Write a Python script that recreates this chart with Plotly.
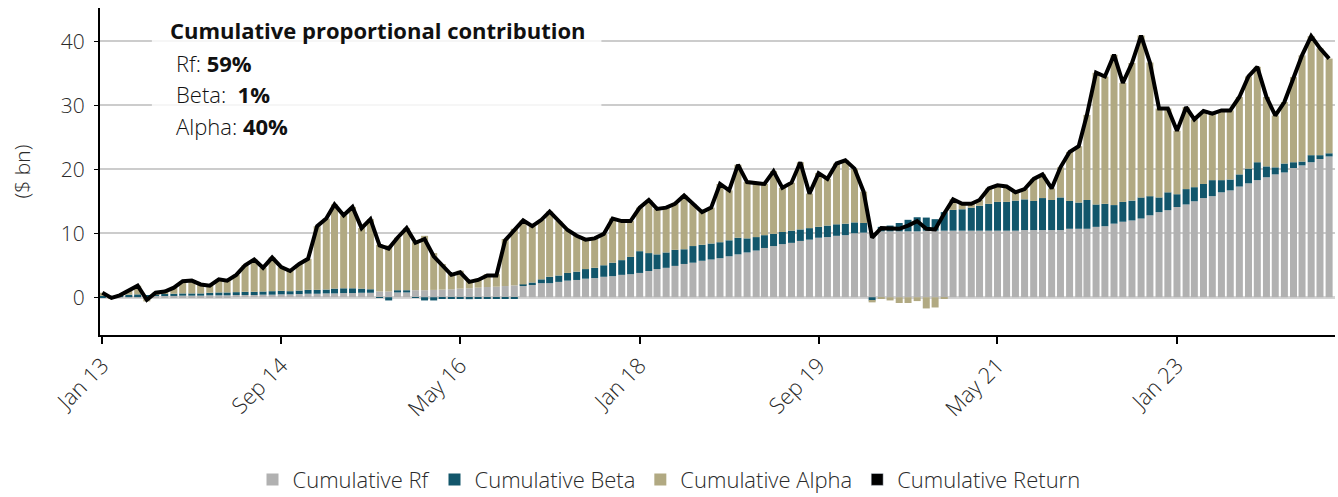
import pandas as pd
import plotly.graph_objects as go

months = pd.date_range("2013-01-01", periods=138, freq="MS")

cum_rf = [
    0.0, 0.05, 0.1, 0.1, 0.15, 0.15, 0.2, 0.2, 0.2, 0.25, 0.25, 0.25, 0.3, 0.3, 0.3, 0.35, 0.35, 0.35, 0.4, 0.4,
    0.45, 0.45, 0.5, 0.55, 0.55, 0.6, 0.6, 0.65, 0.65, 0.7, 0.7,
    0.9, 0.9, 0.75, 0.75, 1.1, 1.1, 1.15, 1.2, 1.25, 1.35, 1.4, 1.5, 1.6, 1.65, 1.75, 1.85,
    1.8, 2.0, 2.2, 2.2, 2.4, 2.6, 2.7, 2.9, 3.0, 3.2, 3.3, 3.5, 3.6, 3.8, 4.1, 4.4, 4.6, 4.9, 5.2, 5.4, 5.7, 5.9, 6.1,
    6.4, 6.7, 7.0, 7.3, 7.7, 8.0, 8.3, 8.5, 8.8, 9.0, 9.3, 9.4, 9.6, 9.7, 10.0, 10.1,
    10.1, 10.3, 10.3, 10.3, 10.3, 10.3, 10.4, 10.4, 10.4, 10.4, 10.4, 10.4, 10.4, 10.4, 10.4, 10.4, 10.4, 10.5,
    10.5, 10.5, 10.5, 10.5, 10.7, 10.7, 10.7, 11.0, 11.1, 11.5,
    11.8, 12.0, 12.3, 12.8, 13.3, 13.6, 14.1, 14.5, 15.0, 15.5, 15.8, 16.4, 16.7, 17.3, 17.8, 18.3, 18.75, 19.2,
    19.5, 20.2, 20.6, 21.1, 21.6, 22.0,
]

cum_beta = [
    0.2, 0.1, 0.2, 0.3, 0.3, 0.1, 0.3, 0.3, 0.35, 0.35, 0.35, 0.35, 0.4, 0.45, 0.45, 0.45, 0.5, 0.5, 0.5, 0.55,
    0.55, 0.5, 0.55, 0.6, 0.6, 0.6, 0.75, 0.75, 0.75, 0.65, 0.55,
    -0.1, -0.5, 0.35, 0.35, -0.1, -0.5, -0.5, -0.2, -0.2, -0.25, -0.3, -0.2, -0.2, -0.2, -0.2, -0.2,
    0.2, 0.3, 0.6, 1.0, 1.0, 1.2, 1.3, 1.5, 1.6, 1.8, 2.1, 2.3, 2.7, 3.4, 2.8, 2.3, 2.4, 2.5, 2.3, 2.6, 2.5, 2.5, 2.5,
    2.5, 2.6, 2.2, 2.1, 2.0, 1.9, 1.9, 1.9, 1.8, 1.8, 1.7, 1.8, 1.8, 1.8, 1.7, 1.5,
    -0.5, 0.7, 0.9, 1.3, 1.8, 2.2, 2.05, 1.8, 2.9, 3.25, 3.35, 3.6, 3.9, 4.2, 4.5, 4.5, 4.7, 4.8,
    4.55, 5.0, 4.7, 5.1, 4.35, 4.1, 4.5, 3.5, 3.5, 2.9,
    3.1, 3.1, 3.3, 3.0, 2.3, 2.8, 2.0, 2.4, 2.2, 2.2, 2.5, 1.9, 1.7, 1.9, 2.3, 2.8, 1.7, 1.1,
    1.4, 0.9, 0.6, 1.1, 0.6, 0.5,
]

cum_alpha = [
    0.5, -0.25, 0.0, 0.6, 1.35, -0.65, 0.2, 0.4, 0.95, 1.9, 2.0, 1.4, 1.1, 2.05, 1.85, 2.7, 4.15, 5.05, 3.7, 5.25,
    3.7, 3.15, 4.15, 4.85, 9.95, 11.1, 13.15, 11.4, 12.7, 9.45, 10.95,
    7.3, 7.2, 8.2, 9.7, 7.5, 8.5, 5.75, 4.0, 2.45, 2.8, 1.3, 1.4, 2.0, 1.95, 7.35, 8.85,
    10.0, 8.8, 9.3, 10.2, 8.5, 6.7, 5.6, 4.6, 4.6, 4.9, 6.9, 6.1, 5.6, 6.8, 8.3, 7.1, 7.0, 7.2, 8.4, 6.6, 5.1, 5.6, 9.1,
    7.8, 11.4, 8.8, 8.5, 8.0, 9.8, 6.9, 7.5, 10.5, 5.4, 8.4, 7.3, 9.5, 9.9, 8.4, 4.9,
    -0.3, -0.2, -0.5, -0.9, -0.9, -0.6, -1.75, -1.6, -0.2, 1.65, 0.85, 0.6, 0.9, 2.4, 2.6, 2.4, 1.3, 1.6,
    3.45, 3.7, 1.8, 4.7, 7.65, 8.8, 13.3, 20.6, 19.9, 23.5,
    18.6, 21.5, 25.3, 20.9, 13.9, 13.1, 9.9, 12.8, 10.6, 11.4, 10.4, 10.9, 10.8, 12.1, 14.4, 14.9, 10.85, 8.1,
    9.6, 13.3, 16.6, 18.6, 16.7, 14.8,
]

cum_return = [
    0.7, -0.1, 0.3, 1.0, 1.8, -0.4, 0.7, 0.9, 1.5, 2.5, 2.6, 2.0, 1.8, 2.8, 2.6, 3.5, 5.0, 5.9, 4.6, 6.2,
    4.7, 4.1, 5.2, 6.0, 11.1, 12.3, 14.5, 12.8, 14.1, 10.8, 12.2,
    8.1, 7.6, 9.3, 10.8, 8.5, 9.1, 6.4, 5.0, 3.5, 3.9, 2.4, 2.7, 3.4, 3.4, 8.9, 10.5,
    12.0, 11.1, 12.1, 13.4, 11.9, 10.5, 9.6, 9.0, 9.2, 9.9, 12.3, 11.9, 11.9, 14.0, 15.2, 13.8, 14.0, 14.6, 15.9,
    14.6, 13.3, 14.0, 17.7,
    16.7, 20.7, 18.0, 17.9, 17.7, 19.7, 17.1, 17.9, 21.1, 16.2, 19.4, 18.5, 20.9, 21.4, 20.1, 16.5,
    9.3, 10.8, 10.7, 10.7, 11.2, 11.9, 10.7, 10.6, 13.1, 15.3, 14.6, 14.6, 15.2, 17.0, 17.5, 17.3, 16.4, 16.9,
    18.5, 19.2, 17.0, 20.3, 22.7, 23.6, 28.5, 35.1, 34.5, 37.9,
    33.5, 36.6, 40.9, 36.7, 29.5, 29.5, 26.0, 29.7, 27.8, 29.1, 28.7, 29.2, 29.2, 31.3, 34.5, 36.0, 31.3, 28.4,
    30.5, 34.4, 37.8, 40.8, 38.9, 37.3,
]

tick_dates = ["2013-01-01", "2014-09-01", "2016-05-01", "2018-01-01", "2019-09-01", "2021-05-01", "2023-01-01"]
y_ticks = [0, 10, 20, 30, 40]

COL_RF = "#b1b1b1"
COL_BETA = "#12566b"
COL_ALPHA = "#b1a982"
COL_RET = "#000000"
FONT = "Open Sans"
TXT = "#2a2a2a"

fig = go.Figure()
fig.add_trace(go.Bar(x=months, y=cum_rf, name="Cumulative Rf", marker=dict(color=COL_RF, line=dict(width=0))))
fig.add_trace(go.Bar(x=months, y=cum_beta, name="Cumulative Beta", marker=dict(color=COL_BETA, line=dict(width=0))))
fig.add_trace(go.Bar(x=months, y=cum_alpha, name="Cumulative Alpha", marker=dict(color=COL_ALPHA, line=dict(width=0))))
fig.add_trace(go.Scatter(x=months, y=cum_return, mode="lines", name="Cumulative Return",
                         line=dict(color=COL_RET, width=4), showlegend=False, legendgroup="ret"))
# legend swatch for the return line (square like the reference)
fig.add_trace(go.Bar(x=[None], y=[None], name="Cumulative Return", marker=dict(color=COL_RET), legendgroup="ret"))

fig.update_layout(
    width=1338, height=497,
    margin=dict(l=100, r=3, t=8, b=162),
    barmode="relative", bargap=0.15,
    plot_bgcolor="white", paper_bgcolor="white",
    font=dict(family=FONT, color=TXT, size=18),
    legend=dict(orientation="h", xref="container", yref="container", x=0.5, xanchor="center",
                y=0.035, yanchor="middle", font=dict(size=22, color=TXT, weight=300),
                itemclick=False, tracegroupgap=0, itemwidth=30),
    showlegend=True,
)
fig.update_xaxes(
    type="date", range=["2012-12-24", "2024-06-21"],
    tickvals=tick_dates, tickformat="%b %y", tickangle=-45,
    tickfont=dict(size=22, color=TXT, weight=300),
    showgrid=False, showline=True, linecolor="black", linewidth=2,
    ticks="outside", ticklen=7, tickwidth=2, tickcolor="black",
)
fig.update_yaxes(
    range=[-5.9, 45.2], tickvals=y_ticks,
    tickfont=dict(size=21, color=TXT, weight=300), ticklabelstandoff=5,
    showgrid=True, gridcolor="#cccccc", gridwidth=2,
    zeroline=True, zerolinecolor="#d4d4d4", zerolinewidth=3,
    showline=True, linecolor="black", linewidth=2,
    ticks="outside", ticklen=4, tickwidth=1, tickcolor="black",
    title=dict(text="($ bn)", font=dict(size=21, color=TXT, weight=300), standoff=24),
)

# translucent box behind the contribution note
fig.add_shape(type="rect", xref="paper", yref="paper", x0=0.042, x1=0.406, y0=0.58, y1=0.985,
              fillcolor="rgba(255,255,255,0.82)", line=dict(width=0), layer="above")
fig.add_annotation(xref="paper", yref="paper", x=0.055, y=0.933, xanchor="left", yanchor="middle",
                   text="<b>Cumulative proportional contribution</b>", showarrow=False,
                   font=dict(size=22, color="#111111"))
fig.add_annotation(xref="paper", yref="paper", x=0.06, y=0.832, xanchor="left", yanchor="middle",
                   text="Rf: <b>59%</b>", showarrow=False, font=dict(size=22, color="#111111", weight=300))
fig.add_annotation(xref="paper", yref="paper", x=0.06, y=0.737, xanchor="left", yanchor="middle",
                   text="Beta:  <b>1%</b>", showarrow=False, font=dict(size=22, color="#111111", weight=300))
fig.add_annotation(xref="paper", yref="paper", x=0.06, y=0.639, xanchor="left", yanchor="middle",
                   text="Alpha: <b>40%</b>", showarrow=False, font=dict(size=22, color="#111111", weight=300))

fig.write_html("out.html", config={"displayModeBar": False},
               post_script="document.body.style.margin='0';")
